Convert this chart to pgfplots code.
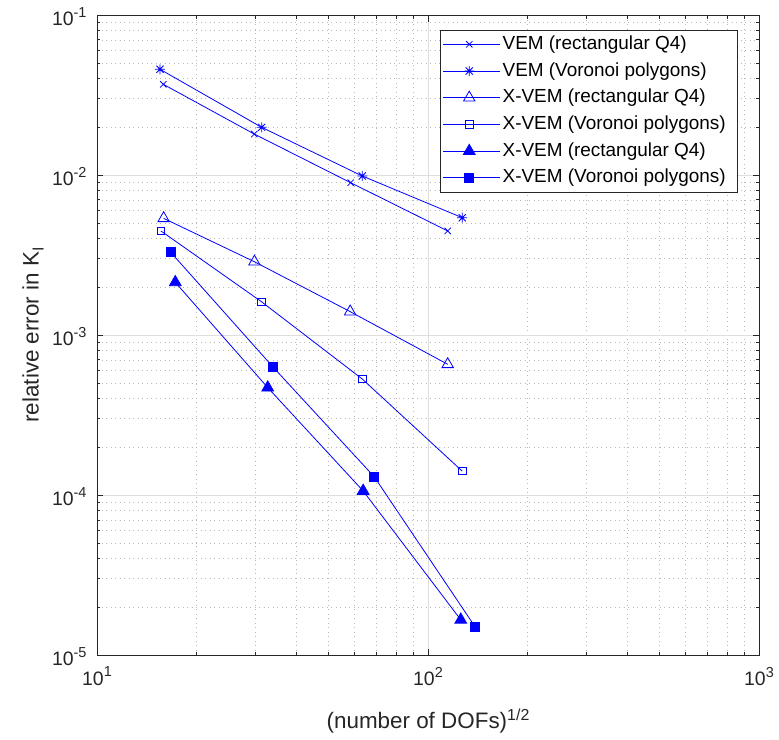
\documentclass[border=0pt]{standalone}
\usepackage{fontspec}
\setmainfont{Liberation Sans}
\usepackage{pgfplots}
\pgfplotsset{compat=1.18}
\usetikzlibrary{plotmarks}
\definecolor{axgray}{gray}{0.15}
\definecolor{majgrid}{gray}{0.87}
\definecolor{mingrid}{gray}{0.72}
\definecolor{mblue}{rgb}{0,0,1}
\newcommand\tsup[1]{\raisebox{0.45em}{\fontsize{14.5}{14.5}\selectfont #1}}
\pgfdeclareplotmark{mstar}{%
 \pgfpathmoveto{\pgfqpoint{-\pgfplotmarksize}{0pt}}\pgfpathlineto{\pgfqpoint{\pgfplotmarksize}{0pt}}%
 \pgfpathmoveto{\pgfqpoint{0pt}{-\pgfplotmarksize}}\pgfpathlineto{\pgfqpoint{0pt}{\pgfplotmarksize}}%
 \pgfpathmoveto{\pgfqpoint{-.7071\pgfplotmarksize}{-.7071\pgfplotmarksize}}\pgfpathlineto{\pgfqpoint{.7071\pgfplotmarksize}{.7071\pgfplotmarksize}}%
 \pgfpathmoveto{\pgfqpoint{-.7071\pgfplotmarksize}{.7071\pgfplotmarksize}}\pgfpathlineto{\pgfqpoint{.7071\pgfplotmarksize}{-.7071\pgfplotmarksize}}%
 \pgfusepathqstroke}
\begin{document}
\begin{tikzpicture}
\useasboundingbox (-97bp,-85bp) rectangle (682bp,655bp);
\begin{axis}[
  at={(0,0)}, anchor=south west,
  scale only axis, width=662bp, height=640bp,
  xmode=log, ymode=log, log basis x=10, log basis y=10,
  xmin=10, xmax=1000, ymin=1e-5, ymax=1e-1,
  xtick={10,100,1000},
  xticklabels={10\tsup{1},10\tsup{2},10\tsup{3}},
  ytick={1e-5,1e-4,1e-3,1e-2,1e-1},
  yticklabels={10\tsup{-5},10\tsup{-4},10\tsup{-3},10\tsup{-2},10\tsup{-1}},
  minor xtick={20,30,40,50,60,70,80,90,200,300,400,500,600,700,800,900},
  minor ytick={2e-5,3e-5,4e-5,5e-5,6e-5,7e-5,8e-5,9e-5,
               2e-4,3e-4,4e-4,5e-4,6e-4,7e-4,8e-4,9e-4,
               2e-3,3e-3,4e-3,5e-3,6e-3,7e-3,8e-3,9e-3,
               2e-2,3e-2,4e-2,5e-2,6e-2,7e-2,8e-2,9e-2},
  tick pos=both, tick align=inside,
  major tick length=6.5bp, minor tick length=3.5bp,
  grid=both,
  major grid style={majgrid, line width=0.6bp},
  minor grid style={mingrid, line width=0.5bp, dash pattern=on 1bp off 3.5bp},
  axis line style={axgray, line width=0.6bp},
  tick style={axgray, line width=0.6bp},
  tick label style={font=\fontsize{19.5}{23}\selectfont, text=axgray},
  xticklabel style={yshift=-8.5bp},
  yticklabel style={xshift=-7bp, yshift=-1.5bp},
  label style={font=\fontsize{22.5}{27}\selectfont, text=axgray},
  xlabel={(number of DOFs)\raisebox{0.33em}{\fontsize{16}{16}\selectfont 1/2}},
  ylabel={relative error in K\raisebox{-0.22em}{\fontsize{16}{16}\selectfont I}},
  xlabel style={at={(axis description cs:0.5,0)}, anchor=center, yshift=-66bp},
  ylabel style={at={(axis description cs:0,0.5)}, anchor=center, yshift=64bp},
  legend cell align=left,
  legend style={at={(1,1)}, anchor=north east, xshift=-21bp, yshift=-15bp,
    draw=axgray, line width=0.6bp, fill=white,
    font=\fontsize{19}{22}\selectfont, text=black,
    inner xsep=3bp, inner ysep=3bp, row sep=4.7bp,
    nodes={inner sep=2bp, text height=14bp, text depth=4bp}},
  legend image code/.code={\draw[mark repeat=2,mark phase=2] plot coordinates {(0bp,0bp) (26bp,0bp) (52bp,0bp)}; \path (0bp,0bp) -- (57bp,0bp);},
  every axis plot/.append style={mblue, line width=0.8bp},
]
\addplot[mark=x, mark size=4.5bp, mark options={solid}] coordinates {
 (15.86,0.0369) (29.87,0.01803) (58.4,0.00895) (114.7,0.00447)};
\addlegendentry{VEM (rectangular Q4)}
\addplot[mark=mstar, mark size=5bp, mark options={solid}] coordinates {
 (15.50,0.0458) (31.45,0.01986) (63.3,0.00986) (126.9,0.00541)};
\addlegendentry{VEM (Voronoi polygons)}
\addplot[mark=triangle, mark size=6.6bp, mark options={solid}] coordinates {
 (15.9,0.00536) (29.9,0.00287) (58.2,0.00140) (114.7,0.000656)};
\addlegendentry{X-VEM (rectangular Q4)}
\addplot[mark=square, mark size=3.7bp, mark options={solid}] coordinates {
 (15.6,0.00447) (31.4,0.001615) (63.3,0.000531) (126.9,0.000141)};
\addlegendentry{X-VEM (Voronoi polygons)\hspace*{7bp}}
\addplot[mark=triangle*, mark size=6.8bp, mark options={solid, fill=mblue}] coordinates {
 (17.24,0.002135) (32.8,0.000469) (63.7,0.000106) (125.6,1.66e-5)};
\addlegendentry{X-VEM (rectangular Q4)}
\addplot[mark=square*, mark size=4.4bp, mark options={solid, fill=mblue}] coordinates {
 (16.70,0.00329) (33.95,0.000634) (68.8,0.000130) (138.7,1.503e-5)};
\addlegendentry{X-VEM (Voronoi polygons)\hspace*{7bp}}
\end{axis}
\end{tikzpicture}
\end{document}
